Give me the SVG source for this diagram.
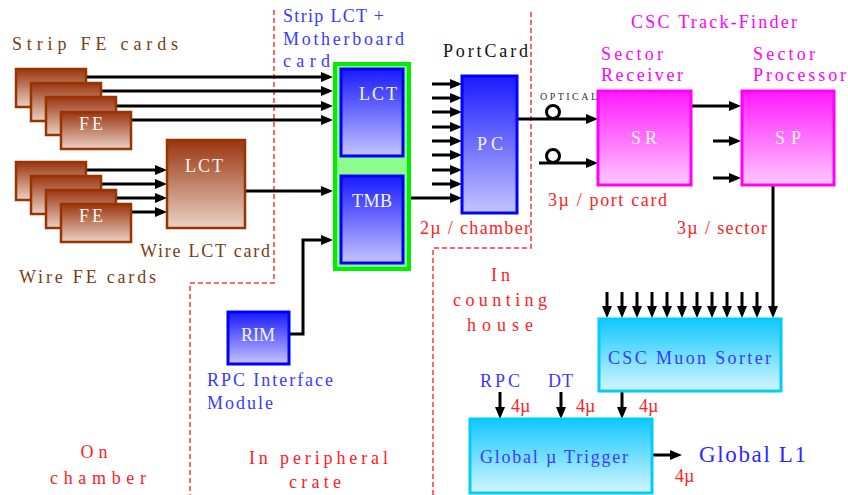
<svg xmlns="http://www.w3.org/2000/svg" width="848" height="495" viewBox="0 0 848 495">
<defs>
<linearGradient id="gBrown" x1="0" y1="0" x2="0" y2="1"><stop offset="0" stop-color="#9a3510"/><stop offset="1" stop-color="#ead2c4"/></linearGradient>
<linearGradient id="gBlue" x1="0" y1="0" x2="0" y2="1"><stop offset="0" stop-color="#1a1aff"/><stop offset="1" stop-color="#c4c4ff"/></linearGradient>
<linearGradient id="gMag" x1="0" y1="0" x2="0" y2="1"><stop offset="0" stop-color="#ff1aff"/><stop offset="1" stop-color="#ffc8ff"/></linearGradient>
<linearGradient id="gCyan" x1="0" y1="0" x2="0" y2="1"><stop offset="0" stop-color="#10c8ff"/><stop offset="1" stop-color="#d4f6ff"/></linearGradient>
<marker id="ah" viewBox="0 0 12 10" refX="8" refY="5" markerWidth="12" markerHeight="10" markerUnits="userSpaceOnUse" orient="auto"><path d="M0,0 L12,5 L0,10 z" fill="#000"/></marker>
</defs>
<style>
text{font-family:"Liberation Serif","DejaVu Serif",serif;}
.fe{fill:url(#gBrown);stroke:#993300;stroke-width:2.5;}
.bl{fill:url(#gBlue);stroke:#0000ff;stroke-width:3;}
.mg{fill:url(#gMag);stroke:#ff00ff;stroke-width:3;}
.cy{fill:url(#gCyan);stroke:#00ccff;stroke-width:3;}
.lbl{fill:#f4f4f4;font-size:18px;text-anchor:middle;}
.brn{fill:#7a3d10;font-size:18px;}
.red{fill:#ff2020;font-size:18px;}
.blu{fill:#3a3aff;font-size:18px;}
.mag{fill:#ff00ff;font-size:18px;}
.blk{fill:#111;font-size:18px;}
.c{stroke:#000;stroke-width:3;fill:none;}
.a{marker-end:url(#ah);}
.dash{stroke:#ff3333;stroke-width:1.5;fill:none;stroke-dasharray:5,3;}
</style>

<g id="regions">
<path class="dash" d="M274,10 V283 H190 V495"/>
<path class="dash" d="M531,12 V248 H433 V495"/>
</g>

<g id="connectors">
<line class="c a" x1="86" y1="77" x2="329" y2="77"/>
<line class="c a" x1="101" y1="91" x2="329" y2="91"/>
<line class="c a" x1="116" y1="106" x2="329" y2="106"/>
<line class="c a" x1="131" y1="120" x2="329" y2="120"/>
<line class="c a" x1="86" y1="170" x2="163" y2="170"/>
<line class="c a" x1="101" y1="184" x2="163" y2="184"/>
<line class="c a" x1="116" y1="198" x2="163" y2="198"/>
<line class="c a" x1="131" y1="212" x2="163" y2="212"/>
<line class="c a" x1="245" y1="191" x2="329" y2="191"/>
<polyline class="c a" points="290,334 303,334 303,240 329,240"/>
<line class="c a" x1="372" y1="156" x2="372" y2="172"/>
<line class="c a" x1="410" y1="198" x2="458" y2="198"/>
<line class="c a" x1="432" y1="84" x2="458" y2="84"/>
<line class="c a" x1="432" y1="98" x2="458" y2="98"/>
<line class="c a" x1="432" y1="112" x2="458" y2="112"/>
<line class="c a" x1="432" y1="127" x2="458" y2="127"/>
<line class="c a" x1="432" y1="141" x2="458" y2="141"/>
<line class="c a" x1="432" y1="155" x2="458" y2="155"/>
<line class="c a" x1="432" y1="170" x2="458" y2="170"/>
<line class="c a" x1="432" y1="184" x2="458" y2="184"/>
<line class="c a" x1="517" y1="119" x2="594" y2="119"/>
<circle class="c" cx="553" cy="112" r="6.5"/>
<line class="c a" x1="539" y1="163" x2="594" y2="163"/>
<circle class="c" cx="553" cy="156" r="6.5"/>
<line class="c a" x1="691" y1="106" x2="737" y2="106"/>
<line class="c a" x1="713" y1="141" x2="737" y2="141"/>
<line class="c a" x1="713" y1="178" x2="737" y2="178"/>
<line class="c a" x1="773" y1="185" x2="773" y2="314"/>
<line class="c a" x1="607" y1="292" x2="607" y2="314"/>
<line class="c a" x1="622" y1="292" x2="622" y2="314"/>
<line class="c a" x1="637" y1="292" x2="637" y2="314"/>
<line class="c a" x1="652" y1="292" x2="652" y2="314"/>
<line class="c a" x1="667" y1="292" x2="667" y2="314"/>
<line class="c a" x1="682" y1="292" x2="682" y2="314"/>
<line class="c a" x1="697" y1="292" x2="697" y2="314"/>
<line class="c a" x1="712" y1="292" x2="712" y2="314"/>
<line class="c a" x1="727" y1="292" x2="727" y2="314"/>
<line class="c a" x1="742" y1="292" x2="742" y2="314"/>
<line class="c a" x1="757" y1="292" x2="757" y2="314"/>
<line class="c a" x1="622" y1="392" x2="622" y2="415"/>
<line class="c a" x1="500" y1="392" x2="500" y2="415"/>
<line class="c a" x1="561" y1="392" x2="561" y2="415"/>
<line class="c a" x1="653" y1="455" x2="678" y2="455"/>
</g>

<g id="strip-fe">
<rect class="fe" x="16" y="69" width="70" height="38"/>
<rect class="fe" x="31" y="83" width="70" height="38"/>
<rect class="fe" x="46" y="97" width="70" height="38"/>
<rect class="fe" x="61" y="112" width="70" height="37"/>
<text class="lbl" x="91" y="130" textLength="24">FE</text>
<text class="brn" x="12" y="50" textLength="166">Strip FE cards</text>
</g>

<g id="wire-fe">
<rect class="fe" x="16" y="162" width="70" height="38"/>
<rect class="fe" x="31" y="176" width="70" height="38"/>
<rect class="fe" x="46" y="190" width="70" height="38"/>
<rect class="fe" x="61" y="204" width="70" height="38"/>
<text class="lbl" x="91" y="222" textLength="24">FE</text>
<text class="brn" x="19" y="283" textLength="137">Wire FE cards</text>
</g>

<g id="wire-lct">
<rect class="fe" x="167" y="140" width="78" height="88"/>
<text class="lbl" x="204" y="172" textLength="38">LCT</text>
<text class="brn" x="140" y="257" textLength="130">Wire LCT card</text>
</g>

<g id="motherboard">
<rect x="335" y="64" width="74" height="205" fill="#8cfc8c" stroke="#00ee00" stroke-width="4"/>
<text class="blu" x="283" y="22" textLength="101">Strip LCT +</text>
<text class="blu" x="283" y="45" textLength="121">Motherboard</text>
<text class="blu" x="283" y="67" textLength="47">card</text>
</g>

<g id="strip-lct">
<rect class="bl" x="341" y="69" width="62" height="87"/>
<text class="lbl" x="378" y="100" textLength="38">LCT</text>
</g>

<g id="tmb">
<rect class="bl" x="341" y="176" width="62" height="87"/>
<text class="lbl" x="372" y="207" textLength="40">TMB</text>
</g>

<g id="portcard">
<rect class="bl" x="462" y="76" width="55" height="137"/>
<text class="lbl" x="490" y="150" textLength="26">PC</text>
<text class="blk" x="443" y="57" textLength="85">PortCard</text>
<text class="red" x="420" y="234" textLength="110">2µ / chamber</text>
</g>

<g id="sr">
<rect class="mg" x="598" y="91" width="93" height="94"/>
<text class="lbl" x="644" y="144" textLength="26">SR</text>
<text class="mag" x="601" y="60" textLength="62">Sector</text>
<text class="mag" x="601" y="81" textLength="82">Receiver</text>
<text x="540" y="100" font-size="10" fill="#333" textLength="57">OPTICAL</text>
<text class="red" x="548" y="206" textLength="119">3µ / port card</text>
</g>

<g id="sp">
<rect class="mg" x="742" y="91" width="92" height="94"/>
<text class="lbl" x="788" y="144" textLength="26">SP</text>
<text class="mag" x="753" y="60" textLength="62">Sector</text>
<text class="mag" x="753" y="81" textLength="93">Processor</text>
<text class="red" x="677" y="234" textLength="90">3µ / sector</text>
</g>

<g id="track-finder">
<text class="mag" x="631" y="28" textLength="166">CSC Track-Finder</text>
</g>

<g id="rim">
<rect class="bl" x="228" y="312" width="61" height="52"/>
<text class="lbl" x="258" y="341" textLength="34">RIM</text>
<text class="blu" x="207" y="386" textLength="126">RPC Interface</text>
<text class="blu" x="207" y="409" textLength="66">Module</text>
</g>

<g id="muon-sorter">
<rect class="cy" x="599" y="319" width="182" height="72"/>
<text class="blu" x="608" y="364" textLength="163" fill="#2020ee">CSC Muon Sorter</text>
</g>

<g id="gmt">
<rect class="cy" x="470" y="419" width="182" height="74"/>
<text class="blu" x="480" y="463" textLength="148">Global µ Trigger</text>
<text class="blu" x="480" y="387" textLength="40">RPC</text>
<text class="blu" x="548" y="387" textLength="25">DT</text>
<text class="red" x="511" y="412" font-size="15">4µ</text>
<text class="red" x="576" y="412" font-size="15">4µ</text>
<text class="red" x="639" y="412" font-size="15">4µ</text>
</g>

<g id="global-l1">
<text x="699" y="462" font-size="23" fill="#2a2aff" textLength="107">Global L1</text>
<text class="red" x="675" y="482" font-size="15">4µ</text>
</g>

<g id="region-labels">
<text class="red" x="94" y="458" text-anchor="middle" textLength="27">On</text>
<text class="red" x="50" y="484" textLength="96">chamber</text>
<text class="red" x="249" y="464" textLength="139">In peripheral</text>
<text class="red" x="289" y="488" textLength="52">crate</text>
<text class="red" x="491" y="281" textLength="19">In</text>
<text class="red" x="453" y="306" textLength="94">counting</text>
<text class="red" x="467" y="331" textLength="66">house</text>
</g>
</svg>
